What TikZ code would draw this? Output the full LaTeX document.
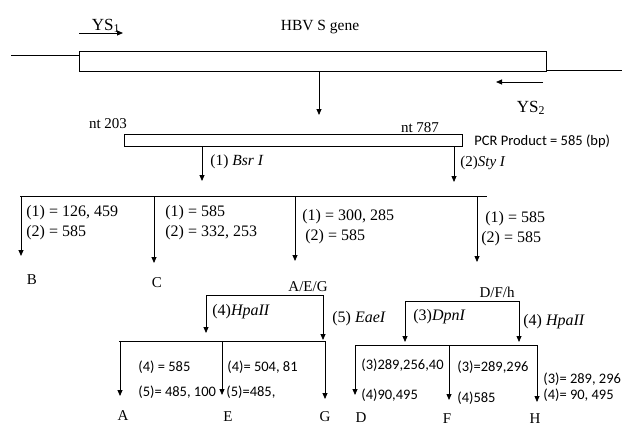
\documentclass[tikz,border=0pt]{standalone}
\usepackage{fontspec}
\setmainfont{Liberation Serif}
\newfontfamily\calibfont{Carlito}
\usetikzlibrary{arrows.meta}
\begin{document}
\begin{tikzpicture}[x=1pt,y=-1pt,line width=0.8pt,
  arr/.style={-{Triangle[length=6pt,width=5pt]}},
  ser/.style={font=\fontsize{16}{18}\selectfont,inner sep=0pt},
  lett/.style={font=\fontsize{15}{17}\selectfont,inner sep=0pt},
  sans/.style={font=\calibfont\fontsize{14.5}{16}\selectfont,inner sep=0pt,anchor=west},
  lab/.style={ser,anchor=west},
  boxst/.style={draw,inner sep=0pt}]
\useasboundingbox (0,0) rectangle (624,428);
% ---- top gene
\node[ser,font=\fontsize{17}{19}\selectfont] (ys1) at (106,26) {YS\textsubscript{1}};
\coordinate (ys1a) at (79,33); \coordinate (ys1b) at (123,33);
\draw[arr] (ys1a) -- (ys1b);
\node[ser,font=\fontsize{15.5}{17}\selectfont] (hbv) at (320,27) {HBV S gene};
\node[boxst,minimum width=467pt,minimum height=20pt] (gene) at (312.5,61) {};
\coordinate (l0) at (11,55); \coordinate (r0) at (622,70);
\draw (l0) -- (gene.west |- l0);
\draw (gene.east |- r0) -- (r0);
\coordinate (g0) at (319,71); \coordinate (g1) at (319,115);
\draw[arr] (g0) -- (g1);
\coordinate (ys2a) at (543,82); \coordinate (ys2b) at (496,82);
\draw[arr] (ys2a) -- (ys2b);
\node[ser,font=\fontsize{17}{19}\selectfont] (ys2) at (531,108) {YS\textsubscript{2}};
% ---- PCR product
\node[ser,font=\fontsize{15}{17}\selectfont] (nt1) at (108,124) {nt 203};
\node[ser,font=\fontsize{15}{17}\selectfont] (nt2) at (420,128) {nt 787};
\node[boxst,minimum width=338pt,minimum height=12pt] (pcr) at (293,140) {};
\node[sans] (pcrt) at (474,141) {PCR Product = 585 (bp)};
\coordinate (bsr0) at (202,146); \coordinate (bsr1) at (202,181);
\coordinate (sty0) at (454,146); \coordinate (sty1) at (454,182);
\draw[arr] (bsr0) -- (bsr1);
\draw[arr] (sty0) -- (sty1);
\node[lab,font=\fontsize{15.5}{17}\selectfont] (bsrl) at (210,162) {(1) \textit{Bsr I}};
\node[lab,font=\fontsize{15}{17}\selectfont] (styl) at (460,163) {(2)\textit{Sty I}};
% ---- level 1
\coordinate (h0) at (20,196); \coordinate (h1) at (487,196);
\draw (h0) -- (h1);
\coordinate (bB0) at (21,196); \coordinate (bB1) at (21,256);
\coordinate (bC0) at (154,196); \coordinate (bC1) at (154,263);
\coordinate (bA0) at (295,196); \coordinate (bA1) at (295,261);
\coordinate (bD0) at (477,196); \coordinate (bD1) at (477,262);
\draw[arr] (bB0) -- (bB1);
\draw[arr] (bC0) -- (bC1);
\draw[arr] (bA0) -- (bA1);
\draw[arr] (bD0) -- (bD1);
\node[lab] (tB1) at (26,213) {(1) = 126, 459};
\node[lab] (tB2) at (26,233) {(2) = 585};
\node[lab] (tC1) at (165,213) {(1) = 585};
\node[lab] (tC2) at (165,233) {(2) = 332, 253};
\node[lab] (tA1) at (302,217) {(1) = 300, 285};
\node[lab] (tA2) at (305,237) {(2) = 585};
\node[lab] (tD1) at (485,219) {(1) = 585};
\node[lab] (tD2) at (481,239) {(2) = 585};
\node[lett] (B) at (32,280) {B};
\node[lett] (C) at (157,283) {C};
\node[lett] (AEG) at (308,287) {A/E/G};
\node[lett] (DFH) at (497,292) {D/F/h};
% ---- A/E/G subtree
\coordinate (a1) at (206,295); \coordinate (a2) at (323,295);
\coordinate (a1e) at (206,333); \coordinate (a2e) at (323,340);
\draw (a1) -- (a2);
\draw[arr] (a1) -- (a1e);
\draw[arr] (a2) -- (a2e);
\node[lab] (hpa1) at (212,312) {(4)\textit{HpaII}};
\node[lab] (eae) at (332,319) {(5) \textit{EaeI}};
\coordinate (s0) at (119,341); \coordinate (s1) at (325,341);
\draw (s0) -- (s1);
\coordinate (sA0) at (120,341); \coordinate (sA1) at (120,396);
\coordinate (sE0) at (222,341); \coordinate (sE1) at (222,395);
\coordinate (sG0) at (325,341); \coordinate (sG1) at (325,399);
\draw[arr] (sA0) -- (sA1);
\draw[arr] (sE0) -- (sE1);
\draw[arr] (sG0) -- (sG1);
\node[sans] (la1) at (138,367) {(4) = 585};
\node[sans] (la2) at (138,392) {(5)= 485, 100};
\node[sans] (le1) at (227,367) {(4)= 504, 81};
\node[sans] (le2) at (226,392) {(5)=485,};
\node[lett] (A) at (123,416) {A};
\node[lett] (E) at (228,417) {E};
\node[lett] (G) at (325,417) {G};
% ---- D/F/h subtree
\coordinate (d1) at (405,301); \coordinate (d2) at (519,301);
\coordinate (d1e) at (405,342); \coordinate (d2e) at (519,342);
\draw (d1) -- (d2);
\draw[arr] (d1) -- (d1e);
\draw[arr] (d2) -- (d2e);
\node[lab] (dpn) at (413,317) {(3)\textit{DpnI}};
\node[lab] (hpa2) at (523,322) {(4) \textit{HpaII}};
\coordinate (t0) at (355,345); \coordinate (t1) at (537,345);
\draw (t0) -- (t1);
\coordinate (tD0) at (355,345); \coordinate (tDe) at (355,395);
\coordinate (tF0) at (449,345); \coordinate (tFe) at (449,400);
\coordinate (tH0) at (537,345); \coordinate (tHe) at (537,402);
\draw[arr] (tD0) -- (tDe);
\draw[arr] (tF0) -- (tFe);
\draw[arr] (tH0) -- (tHe);
\node[sans] (ld1) at (361,365) {(3)289,256,40};
\node[sans] (ld2) at (361,395) {(4)90,495};
\node[sans] (lf1) at (457,367) {(3)=289,296};
\node[sans] (lf2) at (457,398) {(4)585};
\node[sans] (lh1) at (543,379) {(3)= 289, 296};
\node[sans] (lh2) at (543,395) {(4)= 90, 495};
\node[lett] (D) at (361,418) {D};
\node[lett] (F) at (447,419) {F};
\node[lett] (H) at (535,419) {H};
\end{tikzpicture}
\end{document}
